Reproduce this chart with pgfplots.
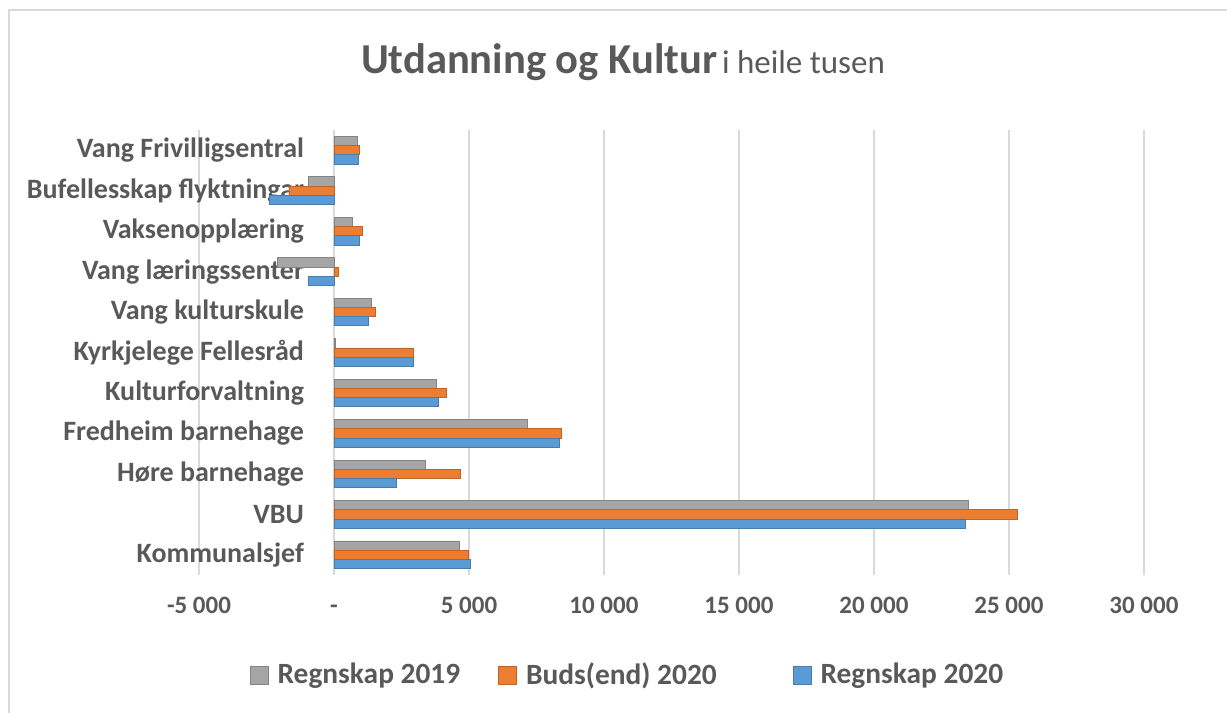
\documentclass[border=0pt]{standalone}
\usepackage{fontspec}
\setmainfont{Carlito}
\usepackage{pgfplots}
\pgfplotsset{compat=1.18}

\definecolor{txt}{HTML}{595959}
\definecolor{gridc}{HTML}{D9D9D9}
\definecolor{c19}{HTML}{A5A5A5}
\definecolor{cbud}{HTML}{ED7D31}
\definecolor{c20}{HTML}{5B9BD5}

% 0 = Kommunalsjef (bottom) ... 10 = Vang Frivilligsentral (top)
\pgfplotstableread{
idx r2019 bud2020 r2020
0   4650  4960  5070
1   23500 25300 23400
2   3370  4700  2300
3   7150  8440  8330
4   3780  4150  3850
5   60    2930  2930
6   1400  1520  1260
7   -2100 150   -930
8   700   1040  930
9   -930  -1670 -2400
10  850   930   900
}\data

\begin{document}
\begin{tikzpicture}
% page 1227x713 px, 1 px = 0.5pt, origin at top left
\path[use as bounding box] (0pt,0pt) rectangle (613.5pt,-356.5pt);
\draw[gridc, line width=0.8pt] (4.5pt,-356.5pt) -- (4.5pt,-5pt) -- (613.5pt,-5pt);

\node[anchor=base, text=txt] at (311.5pt,-36.5pt)
  {{\fontsize{21.3}{24}\selectfont\bfseries Utdanning og Kultur} {\fontsize{16.5}{18}\selectfont i heile tusen}};

\begin{axis}[
    at={(99.5pt,-287.5pt)}, anchor=south west,
    scale only axis,
    width=472.5pt, height=222.5pt,
    xbar, bar width=4.6pt,
    xmin=-5000, xmax=30000,
    ymin=-0.5, ymax=10.5,
    scaled x ticks=false,
    xtick={-5000,0,5000,10000,15000,20000,25000,30000},
    xticklabels={-5 000,-,5 000,10 000,15 000,20 000,25 000,30 000},
    ytick={0,...,10},
    yticklabels={Kommunalsjef,VBU,Høre barnehage,Fredheim barnehage,Kulturforvaltning,
      Kyrkjelege Fellesråd,Vang kulturskule,Vang læringssenter,Vaksenopplæring,
      Bufellesskap flyktningar,Vang Frivilligsentral},
    xmajorgrids=true,
    grid style={gridc, line width=0.8pt},
    axis line style={draw=none},
    major tick length=0pt,
    tick label style={text=txt},
    xticklabel style={font=\fontsize{12.5}{14}\selectfont\bfseries, yshift=-8pt,
      text height=1.6ex, text depth=0.3ex},
    yticklabel style={font=\fontsize{14}{16}\selectfont\bfseries, anchor=east, xshift=56pt},
    legend columns=3,
    legend style={at={(0.4545,-0.225)}, anchor=center, draw=none, fill=none,
      font=\fontsize{14.7}{17}\selectfont\bfseries, text=txt,
      /tikz/every odd column/.append style={column sep=2.5pt},
      /tikz/every even column/.append style={column sep=17pt}},
    legend image code/.code={\fill[#1] (0pt,-4.5pt) rectangle (9pt,4.5pt);},
]
\addplot[fill=c19, draw=c19!80!black, bar shift=4.6pt] table[x=r2019, y=idx] {\data};
\addlegendentry{Regnskap 2019}
\addplot[fill=cbud, draw=cbud!80!black, bar shift=0pt] table[x=bud2020, y=idx] {\data};
\addlegendentry{Buds(end) 2020\hspace*{19pt}}
\addplot[fill=c20, draw=c20!80!black, bar shift=-4.6pt] table[x=r2020, y=idx] {\data};
\addlegendentry{Regnskap 2020}
\end{axis}
\end{tikzpicture}
\end{document}
